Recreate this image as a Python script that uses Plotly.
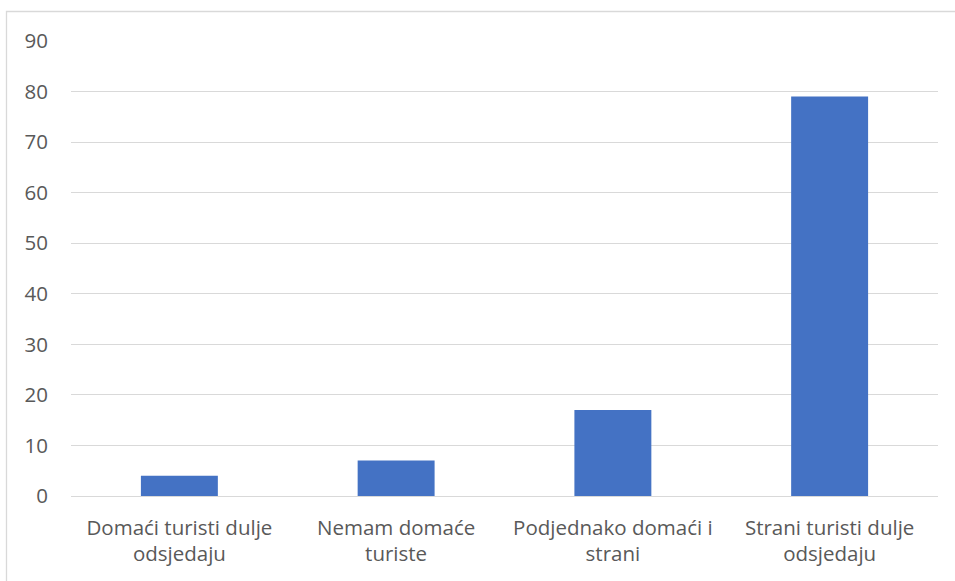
import plotly.graph_objects as go

categories = [
    "Domaći turisti dulje<br>odsjedaju",
    "Nemam domaće<br>turiste",
    "Podjednako domaći i<br>strani",
    "Strani turisti dulje<br>odsjedaju",
]
values = [4, 7, 17, 79]
y_ticks = [0, 10, 20, 30, 40, 50, 60, 70, 80, 90]

BAR_COLOR = "#4472C4"
GRID = "#d9d9d9"
TEXT = "#595959"
FONT = "Open Sans"
FS = 20.5

fig = go.Figure(
    go.Bar(x=categories, y=values, marker=dict(color=BAR_COLOR, line=dict(width=0)), hoverinfo="x+y")
)

W, H = 955, 581
L, R, T, B = 71, 17, 41, 85
pw, ph = W - L - R, H - T - B

fig.update_layout(
    width=W, height=H,
    margin=dict(l=L, r=R, t=T, b=B, pad=0),
    paper_bgcolor="white", plot_bgcolor="white",
    bargap=0.645,
    showlegend=False,
    font=dict(family=FONT, color=TEXT, size=FS),
    xaxis=dict(
        showgrid=False, showline=False, zeroline=False,
        tickfont=dict(family=FONT, size=FS, color=TEXT),
        ticks="", ticklabelstandoff=17,
    ),
    yaxis=dict(
        range=[0, 90], tickvals=y_ticks,
        showgrid=True, gridcolor=GRID, gridwidth=1.3,
        zeroline=True, zerolinecolor=GRID, zerolinewidth=1.3,
        showline=False, ticks="",
        tickfont=dict(family=FONT, size=FS, color=TEXT),
        ticklabelstandoff=22,
    ),
    shapes=[
        dict(
            type="rect", xref="paper", yref="paper",
            x0=(6.5 - L) / pw, x1=(W + 10 - L) / pw,
            y0=(H - B - (H + 10)) / ph, y1=(H - B - 11.5) / ph,
            line=dict(color=GRID, width=1.3), fillcolor="rgba(0,0,0,0)",
            layer="below",
        )
    ],
)

fig.write_html(
    "out.html",
    config={"displayModeBar": False},
    post_script="document.body.style.margin='0';document.body.style.overflow='hidden';",
)
